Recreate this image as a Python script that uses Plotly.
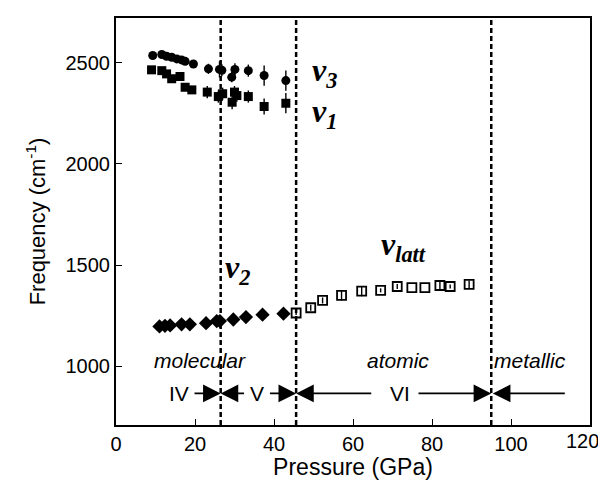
import plotly.graph_objects as go

# --- data ---
nu3_p = [9.3, 11.6, 12.8, 14.1, 15.4, 16.6, 17.5, 19.6, 23.4, 26.2, 26.8, 29.3, 30.1, 33.5, 37.5, 43.0]
nu3_f = [2535, 2540, 2531, 2526, 2518, 2513, 2506, 2493, 2469, 2466, 2462, 2428, 2466, 2460, 2436, 2411]
nu3_err = [0, 0, 0, 0, 0, 0, 0, 0, 25, 40, 30, 25, 30, 30, 50, 50]

nu1_p = [9.0, 11.6, 12.8, 14.1, 16.2, 17.5, 19.2, 23.1, 25.9, 27.0, 29.4, 30.0, 30.6, 33.5, 37.5, 43.0]
nu1_f = [2464, 2460, 2444, 2420, 2431, 2378, 2365, 2354, 2332, 2346, 2304, 2354, 2337, 2332, 2283, 2299]
nu1_err = [0, 0, 0, 0, 0, 0, 0, 30, 30, 30, 35, 30, 30, 30, 40, 50]

nu2_p = [11.0, 12.4, 13.7, 16.6, 18.7, 22.8, 25.5, 26.3, 29.7, 32.9, 37.1, 42.4]
nu2_f = [1197, 1200, 1202, 1207, 1207, 1213, 1223, 1223, 1231, 1243, 1255, 1260]

latt_p = [45.6, 49.3, 52.3, 57.1, 62.2, 67.0, 71.2, 74.9, 78.2, 82.0, 84.6, 89.4]
latt_f = [1263, 1289, 1325, 1350, 1371, 1375, 1394, 1388, 1388, 1399, 1394, 1404]
latt_err = [10, 15, 15, 25, 25, 10, 12, 0, 0, 18, 10, 20]

x_ticks = [0, 20, 40, 60, 80, 100, 120]
y_ticks = [1000, 1500, 2000, 2500]

# phase boundaries (GPa)
boundaries = [26.5, 45.6, 95.0]

regimes = ["molecular", "atomic", "metallic"]
regime_x = [21.3, 71.4, 104.8]

phases = ["IV", "V", "VI"]
phase_x = [16.0, 35.7, 71.9]

FONT = "Liberation Sans"
SERIF = "Liberation Serif"

fig = go.Figure()

def err(vals):
    return dict(type="data", array=vals, visible=True, color="black", thickness=1.4, width=0)

fig.add_trace(go.Scatter(
    x=nu3_p, y=nu3_f, mode="markers", error_y=err(nu3_err),
    marker=dict(symbol="circle", size=9, color="black"), showlegend=False))
fig.add_trace(go.Scatter(
    x=nu1_p, y=nu1_f, mode="markers", error_y=err(nu1_err),
    marker=dict(symbol="square", size=9, color="black"), showlegend=False))
fig.add_trace(go.Scatter(
    x=nu2_p, y=nu2_f, mode="markers",
    marker=dict(symbol="diamond", size=11, color="black"), showlegend=False))
fig.add_trace(go.Scatter(
    x=latt_p, y=latt_f, mode="markers", error_y=err(latt_err),
    marker=dict(symbol="square-open", size=9, color="black", line=dict(width=1.8)),
    showlegend=False))

# dashed phase boundaries
for b in boundaries:
    fig.add_shape(type="line", x0=b, x1=b, xref="x", y0=0, y1=1, yref="paper",
                  line=dict(color="black", width=2.5, dash="5px,3px"))

# mode labels
nu_font = dict(family=SERIF, size=32, color="black")
mode_labels = [
    ("<b><i>ν<sub>3</sub></i></b>", 49.0, 2450),
    ("<b><i>ν<sub>1</sub></i></b>", 49.0, 2250),
    ("<b><i>ν<sub>2</sub></i></b>", 27.0, 1480),
    ("<b><i>ν<sub>latt</sub></i></b>", 66.5, 1590),
]
for txt, x, y in mode_labels:
    fig.add_annotation(x=x, y=y, text=txt, showarrow=False, xanchor="left",
                       yanchor="middle", font=nu_font)

# regime labels
for name, x in zip(regimes, regime_x):
    fig.add_annotation(x=x, y=1030, text="<i>" + name + "</i>", showarrow=False,
                       font=dict(family=FONT, size=21, color="black"))

# phase labels
for name, x in zip(phases, phase_x):
    fig.add_annotation(x=x, y=866, text=name, showarrow=False,
                       font=dict(family=FONT, size=21, color="black"))

# arrows: (tail, head)
arrows = [(19.5, 26.5), (32.8, 26.5), (38.6, 45.6), (65.0, 45.6),
          (76.2, 95.0), (114.0, 95.4)]
for tail, head in arrows:
    fig.add_annotation(x=head, y=866, ax=tail, ay=866, xref="x", yref="y",
                       axref="x", ayref="y", text="", showarrow=True,
                       arrowhead=2, arrowsize=2.2, arrowwidth=1.6, arrowcolor="black")

# last x tick label sits against the frame edge in the original, so pull it in
fig.add_annotation(x=x_ticks[-1], y=0, xref="x", yref="paper", text=str(x_ticks[-1]),
                   showarrow=False, xanchor="right", yanchor="top", xshift=11, yshift=-3,
                   font=dict(family=FONT, size=20, color="black"))

# the page body adds an 8px offset, so the figure is trimmed to fit the window
fig.update_layout(
    width=598, height=472,
    margin=dict(l=108, r=16, t=10, b=55),
    plot_bgcolor="white", paper_bgcolor="white",
    font=dict(family=FONT, color="black"),
)

fig.update_xaxes(
    range=[0, 120], tickvals=x_ticks,
    ticktext=[str(t) for t in x_ticks[:-1]] + [""],
    showline=True, mirror=True, linecolor="black", linewidth=2,
    ticks="inside", ticklen=6, tickwidth=1.2, tickcolor="black",
    showgrid=False, zeroline=False, automargin=False,
    tickfont=dict(size=20, family=FONT),
    title=dict(text="Pressure (GPa)", font=dict(size=23, family=FONT), standoff=0),
)
fig.update_yaxes(
    range=[710, 2720], tickvals=y_ticks,
    showline=True, mirror=True, linecolor="black", linewidth=2,
    ticks="inside", ticklen=6, tickwidth=1.2, tickcolor="black",
    showgrid=False, zeroline=False, automargin=False,
    tickfont=dict(size=20, family=FONT),
    title=dict(text="Frequency (cm<sup>-1</sup>)", font=dict(size=22, family=FONT), standoff=14),
)

fig.write_html("out.html")
